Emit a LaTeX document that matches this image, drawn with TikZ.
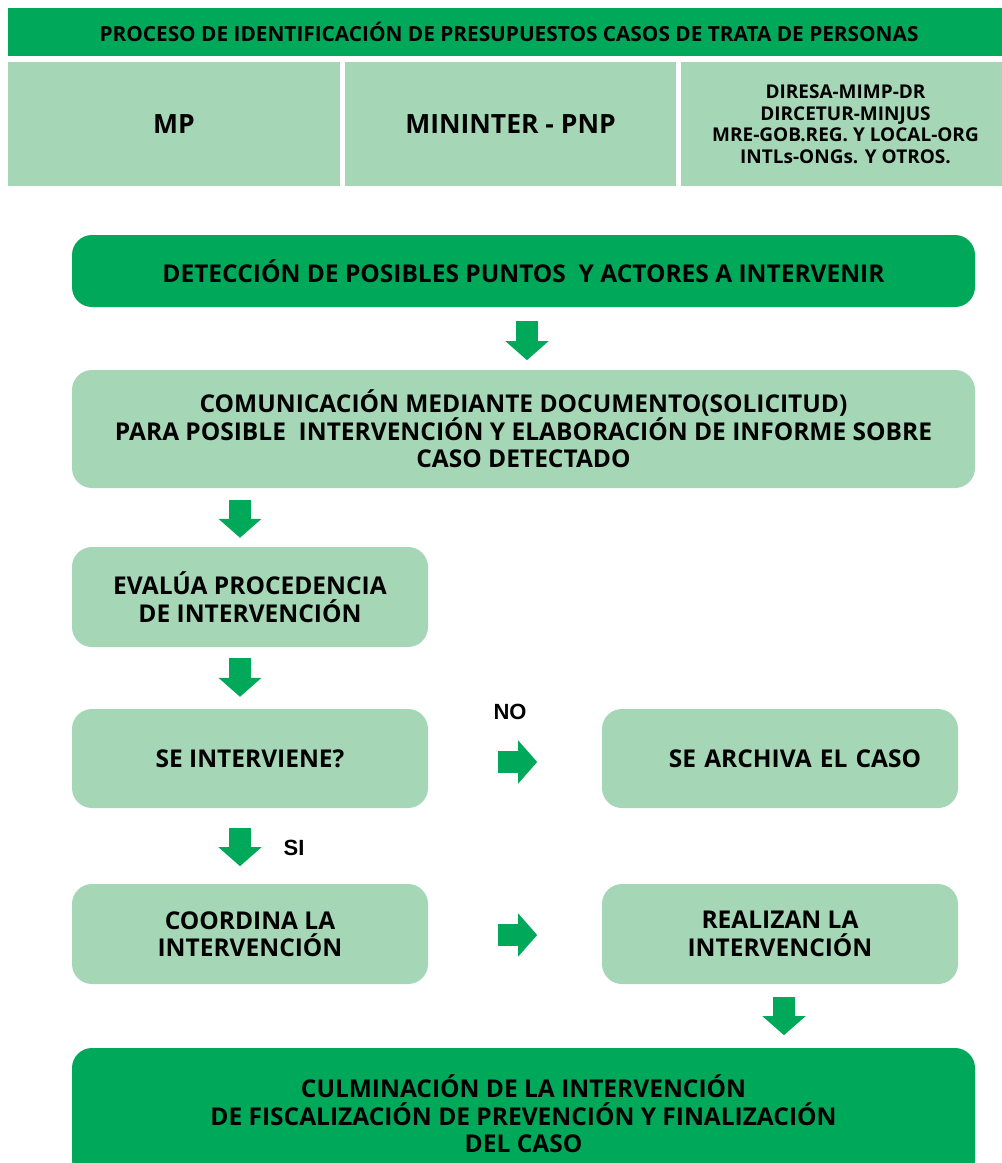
\documentclass[tikz,border=0pt]{standalone}
\usepackage{fontspec}
\setmainfont{Open Sans}[BoldFont={* Bold}]
\newfontfamily\arialfont{Liberation Sans}
\usetikzlibrary{calc,positioning,arrows.meta}

\definecolor{verde}{RGB}{0,168,89}
\definecolor{verdeclaro}{RGB}{165,214,182}

\tikzset{
  hdrbox/.style={rectangle, fill=verde, inner sep=0pt, font=\bfseries\fontsize{20.8}{24}\selectfont},
  actorbox/.style={rectangle, fill=verdeclaro, inner sep=0pt, align=center, minimum height=124pt},
  stepbox/.style={rectangle, rounded corners=20pt, fill=verdeclaro, inner sep=0pt, align=center,
    font=\bfseries\fontsize{24.5}{27.5}\selectfont},
  mainbox/.style={stepbox, fill=verde},
  fatarrow/.style={draw=verde, line width=22pt, -{Triangle[length=19pt,width=42pt]}},
  yesno/.style={font=\arialfont\bfseries\fontsize{22}{24}\selectfont}
}

\begin{document}
\begin{tikzpicture}[x=1pt,y=-1pt]
  \useasboundingbox (0,0) rectangle (1002,1163);
  \clip (0,0) rectangle (1002,1163);

  % cabecera
  \node [hdrbox, minimum width=994pt, minimum height=48pt] (titulo) at (505,32)
    {\hspace*{8pt}PROCESO DE IDENTIFICACIÓN DE PRESUPUESTOS CASOS DE TRATA DE PERSONAS};
  \node [actorbox, minimum width=332pt, font=\bfseries\fontsize{26.5}{30}\selectfont] (mp) at (174,124) {MP};
  \node [actorbox, minimum width=331pt, font=\bfseries\fontsize{26.5}{30}\selectfont] (mininter) at (510.5,124) {MININTER - PNP};
  \node [actorbox, minimum width=321pt, font=\bfseries\fontsize{19}{21.5}\selectfont] (otros) at (841.5,124)
    {\hspace*{8pt}DIRESA-MIMP-DR\\\hspace*{8pt}DIRCETUR-MINJUS\\\hspace*{8pt}MRE-GOB.REG. Y LOCAL-ORG\\\hspace*{8pt}INTLs-ONGs. Y OTROS.};

  % flujo
  \node [mainbox, minimum width=903pt, minimum height=72pt] (deteccion) at (523.5,271)
    {DETECCIÓN DE POSIBLES PUNTOS\ \ Y ACTORES A INTERVENIR};
  \node [stepbox, minimum width=903pt, minimum height=118pt] (comunica) at (523.5,429)
    {COMUNICACIÓN MEDIANTE DOCUMENTO(SOLICITUD)\\PARA POSIBLE\ \ INTERVENCIÓN Y ELABORACIÓN DE INFORME SOBRE\\CASO DETECTADO};
  \node [stepbox, minimum width=356pt, minimum height=100pt] (evalua) at (250,597)
    {EVALÚA PROCEDENCIA\\DE INTERVENCIÓN};
  \node [stepbox, minimum width=356pt, minimum height=99pt] (interviene) at (250,758.5)
    {SE INTERVIENE?};
  \node [stepbox, minimum width=356pt, minimum height=99pt, text width=356pt] (archiva) at (780,758.5)
    {\hspace*{30pt}SE ARCHIVA EL CASO};
  \node [stepbox, minimum width=356pt, minimum height=100pt] (coordina) at (250,934)
    {COORDINA LA\\INTERVENCIÓN};
  \node [stepbox, minimum width=356pt, minimum height=100pt] (realizan) at (780,934)
    {REALIZAN LA\\INTERVENCIÓN};
  \node [mainbox, minimum width=903pt, minimum height=132pt] (culmina) at (523.5,1114)
    {CULMINACIÓN DE LA INTERVENCIÓN\\DE FISCALIZACIÓN DE PREVENCIÓN Y FINALIZACIÓN\\DEL CASO};

  \node [yesno] (no) at (510,712) {NO};
  \node [yesno] (si) at (294,848) {SI};

  % flechas
  \draw [fatarrow] ($(deteccion.south)+(3.5,14)$) -- ++(0,39);
  \draw [fatarrow] ($(evalua.north)+(-10,-47)$) -- ++(0,38);
  \draw [fatarrow] ($(interviene.north)+(-10,-51)$) -- ++(0,39);
  \draw [fatarrow] ($(interviene.east)+(70,3.5)$) -- ++(39,0);
  \draw [fatarrow] ($(interviene.south)+(-10,20)$) -- ++(0,38);
  \draw [fatarrow] ($(coordina.east)+(70,1)$) -- ++(39,0);
  \draw [fatarrow] ($(realizan.south)+(4,13)$) -- ++(0,38);

\end{tikzpicture}
\end{document}
